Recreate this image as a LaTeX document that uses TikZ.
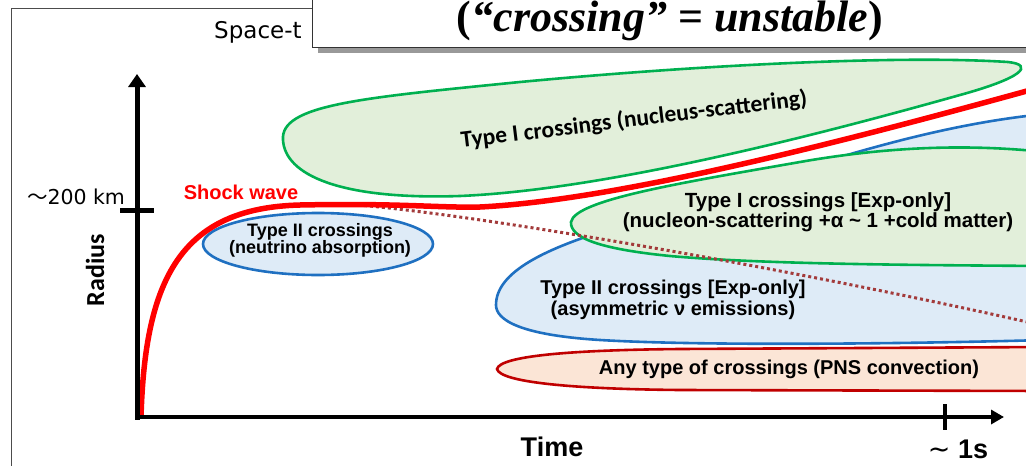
\documentclass[tikz,border=0pt]{standalone}
\usepackage{fontspec}
\setmainfont{Liberation Serif}
\newfontfamily\ari{Liberation Sans}
\newfontfamily\calib{Carlito}
\newfontfamily\dvs{DejaVu Sans}
\newfontfamily\cjk{Noto Sans CJK SC}
\usetikzlibrary{arrows.meta}
\definecolor{gfill}{HTML}{E2EFDA}
\definecolor{gline}{HTML}{00B050}
\definecolor{bfill}{HTML}{DEEBF7}
\definecolor{bline}{HTML}{1F70C1}
\definecolor{rfill}{HTML}{FBE5D6}
\definecolor{rline}{HTML}{C00000}
\definecolor{dotc}{HTML}{A33B3B}
\definecolor{shock}{HTML}{FF0000}
\tikzset{
  greenreg/.style={fill=gfill, draw=gline, line width=2.6pt},
  bluereg/.style={fill=bfill, draw=bline, line width=2.6pt},
  redreg/.style={fill=rfill, draw=rline, line width=2.6pt},
  lab/.style={font=\ari\bfseries\fontsize{20}{21}\selectfont, align=center, inner sep=0pt},
  axis/.style={line width=4.5pt, black},
}
\begin{document}
\begin{tikzpicture}[x=1pt,y=-1pt]
\useasboundingbox (0,0) rectangle (1026,466);
\begin{scope}
\clip (0,0) rectangle (1026,466);
% outer frame
\draw[black!70, line width=1pt] (11,8) rectangle (1045,490);
\node[anchor=west, font=\dvs\fontsize{23}{24}\selectfont, inner sep=0pt] (sp) at (214,32) {Space-t};
% title box
\fill[black!40] (318,-10) rectangle (1045,53);
\draw[fill=white, line width=0.9pt, draw=black!80] (312,-10) rectangle (1045,47);
\node[font=\fontsize{44}{46}\selectfont\bfseries, inner sep=0pt] (title) at (670,21) {(\textit{“crossing”} = \textit{unstable})};

% green region 1 (nucleus scattering)
\path[greenreg] (283,140) .. controls (280,105) and (360,98) .. (520,82)
  .. controls (700,65) and (900,55) .. (1008,62)
  .. controls (1035,65) and (1022,78) .. (960,95)
  .. controls (800,140) and (600,190) .. (460,196)
  .. controls (340,200) and (285,175) .. (283,140) -- cycle;
% small blue ellipse
\draw[bluereg] (318,244) ellipse [x radius=115, y radius=31];
% big blue region
\path[bluereg] (496,305) .. controls (496,272) and (545,248) .. (620,226)
  .. controls (760,185) and (900,128) .. (1045,114)
  -- (1045,340)
  .. controls (900,344) and (700,346) .. (600,340)
  .. controls (520,335) and (496,320) .. (496,305) -- cycle;
% green region 2
\path[greenreg] (571,222) .. controls (575,200) and (680,183) .. (800,162)
  .. controls (880,148) and (960,143) .. (1045,152)
  -- (1045,266)
  .. controls (900,265) and (760,264) .. (670,256)
  .. controls (600,249) and (570,238) .. (571,222) -- cycle;
% red region
\path[redreg] (497,369) .. controls (500,356) and (570,350) .. (680,349)
  -- (1045,347) -- (1045,391) -- (680,390)
  .. controls (570,389) and (500,382) .. (497,369) -- cycle;
% dotted line
\draw[dotc, line width=3pt, dash pattern=on 3pt off 3pt] (358,205) .. controls (480,215) and (800,270) .. (1045,326);
% shock wave
\draw[shock, line width=5.5pt] (141,417) .. controls (145,280) and (180,208) .. (300,205)
  .. controls (400,203) and (440,208) .. (480,207)
  .. controls (620,200) and (850,140) .. (1045,86);
\end{scope}

% axes
\coordinate (O) at (137,417);
\coordinate (ytop) at (137,74);
\coordinate (xend) at (1004,417);
\draw[axis, line width=5pt, -{Triangle[width=17pt,length=13pt]}] (137,419.5) -- (ytop);
\draw[axis, line width=4pt, -{Triangle[width=14pt,length=13pt]}] (135,417) -- (xend);
\draw[line width=5pt] (120,210) -- (154,210);
\draw[line width=4pt] (945,404) -- (945,430);

% labels
\node[font=\dvs\fontsize{20.5}{21}\selectfont, inner sep=0pt] (km) at (76,197) {{\cjk ～}200 km};
\node[font=\calib\bfseries\fontsize{26}{26}\selectfont, rotate=90, inner sep=0pt] (radius) at (95,270) {Radius};
\node[font=\ari\bfseries\fontsize{27}{28}\selectfont, inner sep=0pt] (time) at (552,447) {Time};
\node[font=\ari\bfseries\fontsize{27}{28}\selectfont, inner sep=0pt] (ones) at (958,449) {{\dvs\mdseries ∼} 1s};
\node[lab, text=shock] (sw) at (241,192) {Shock wave};
\node[font=\calib\bfseries\fontsize{23.5}{24}\selectfont, rotate=7, inner sep=0pt] (t1) at (634,120) {Type I crossings (nucleus-scattering)};
\node[lab, font=\ari\bfseries\fontsize{18}{17}\selectfont] (t2) at (320,240) {Type II crossings\\(neutrino absorption)};
\node[lab, font=\ari\bfseries\fontsize{20.5}{18}\selectfont] (t3) at (818,212) {Type I crossings [Exp-only]\\(nucleon-scattering +α \textasciitilde{} 1 +cold matter)};
\node[lab] (t4) at (673,300) {Type II crossings [Exp-only]\\(asymmetric ν emissions)};
\node[lab] (t5) at (789,369) {Any type of crossings (PNS convection)};
\end{tikzpicture}
\end{document}
